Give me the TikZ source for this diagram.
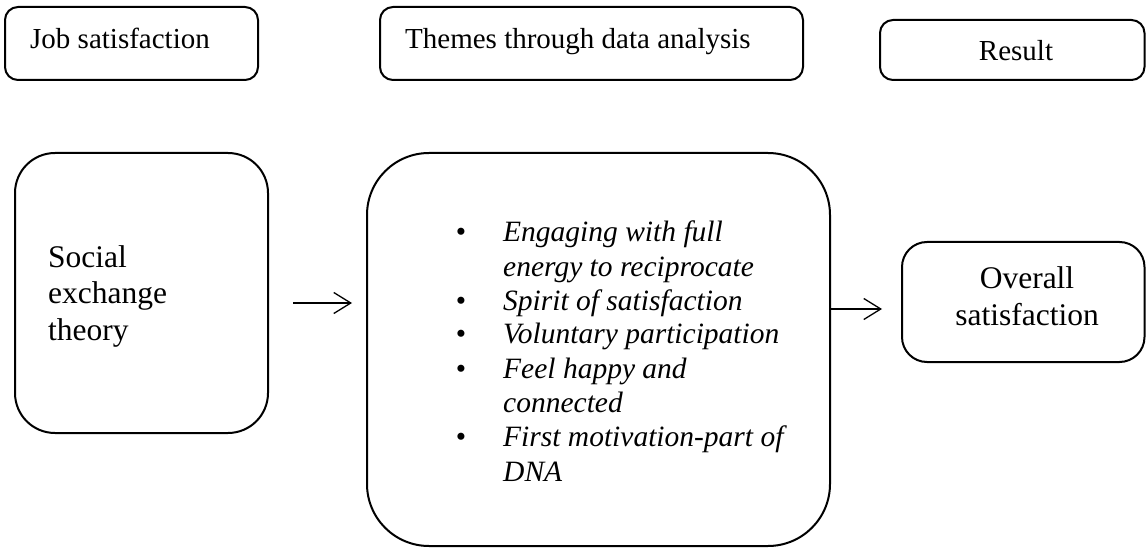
\documentclass[tikz,border=0pt]{standalone}
\usepackage{fontspec}
\setmainfont{Liberation Serif}
\usetikzlibrary{arrows.meta,fit}
\begin{document}
\begin{tikzpicture}[x=1pt,y=-1pt,
  frame/.style={draw, line width=2pt, rounded corners=#1, inner sep=0pt},
  head/.style={anchor=base west, inner sep=0pt, font=\fontsize{29}{34}\selectfont},
  big/.style={inner sep=0pt, font=\fontsize{31.5}{36}\selectfont},
  item/.style={anchor=base west, inner sep=0pt, font=\fontsize{29.5}{34}\selectfont\itshape},
  bul/.style={anchor=base, inner sep=0pt, font=\fontsize{29.5}{34}\selectfont},
  flow/.style={line width=1.3pt, -{Straight Barb[length=17pt,width=21pt,line width=1.3pt]}}]
\useasboundingbox (0,0) rectangle (1146,548);

% column headings
\node[frame=13pt, fit={(5,7)(258,80)}] (jobbox) {};
\node[head] (jobtxt) at (30,49) {Job satisfaction};
\node[frame=13pt, fit={(380,7)(803,80)}] (thmbox) {};
\node[head] (thmtxt) at (405,49) {Themes through data analysis};
\node[frame=13pt, fit={(880,20)(1144.5,80)}] (resbox) {};
\node[head, anchor=base] (restxt) at (1016,61) {Result};

% theory box
\node[frame=40pt, fit={(15,153)(268,433)}] (socbox) {};
\node[big, anchor=base west] (soc1) at (48,267) {Social};
\node[big, anchor=base west] (soc2) at (48,303.5) {exchange};
\node[big, anchor=base west] (soc3) at (48,340) {theory};

% themes box
\node[frame=62pt, fit={(367,153)(830,546)}] (lstbox) {};
\node[bul] (b1) at (461,242) {•};
\node[item] (i1a) at (503,242) {Engaging with full};
\node[item] (i1b) at (503,276.5) {energy to reciprocate};
\node[bul] (b2) at (461,310) {•};
\node[item] (i2) at (503,310) {Spirit of satisfaction};
\node[bul] (b3) at (461,343.5) {•};
\node[item] (i3) at (503,343.5) {Voluntary participation};
\node[bul] (b4) at (461,378) {•};
\node[item] (i4a) at (503,378) {Feel happy and};
\node[item] (i4b) at (503,412) {connected};
\node[bul] (b5) at (461,446.5) {•};
\node[item] (i5a) at (503,446.5) {First motivation-part of};
\node[item] (i5b) at (503,481) {DNA};

% result box
\node[frame=25pt, fit={(902,242)(1144.5,362)}] (ovrbox) {};
\node[big, anchor=base] (ovr1) at (1027,288) {Overall};
\node[big, anchor=base] (ovr2) at (1027,325) {satisfaction};

% connectors
\coordinate (row1) at (0,303);
\coordinate (row2) at (0,309);
\draw[flow, shorten <=24pt, shorten >=14pt] (socbox.east |- row1) -- (lstbox.west |- row1);
\draw[flow, shorten >=19pt] (lstbox.east |- row2) -- (ovrbox.west |- row2);
\end{tikzpicture}
\end{document}
